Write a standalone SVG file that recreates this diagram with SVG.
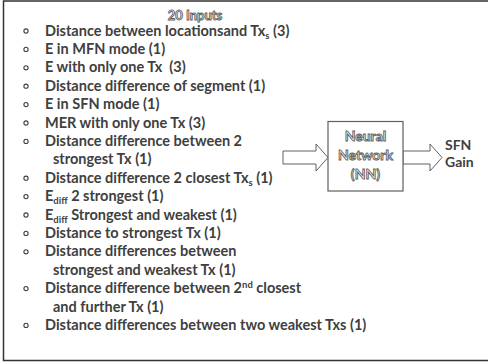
<svg xmlns="http://www.w3.org/2000/svg" width="488" height="362" viewBox="0 0 488 362">
<style>
.t{font-family:Lato,"Open Sans","Liberation Sans",sans-serif;font-weight:700;font-size:14.5px;fill:#404040}
.s{font-size:9.5px}
.o{font-family:Lato,"Open Sans","Liberation Sans",sans-serif;font-weight:700;font-size:14px;fill:#fff;stroke:#606060;stroke-width:0.9;text-anchor:middle}
.b{fill:none;stroke:#404040;stroke-width:1.1}
.ar{fill:#fff;stroke:#606060;stroke-width:1}
.bx{fill:#fff;stroke:#606060;stroke-width:1.2}
</style>
<rect x="3.5" y="1" width="500" height="359.5" fill="#fff" stroke="#333" stroke-width="1.5"/>
<g id="inputs">
<text class="o" x="195" y="19.5" style="font-size:13px">20 Inputs</text>
<g class="bullets">
<circle class="b" cx="26" cy="31" r="2.1"/>
<circle class="b" cx="26" cy="49.4" r="2.1"/>
<circle class="b" cx="26" cy="67.8" r="2.1"/>
<circle class="b" cx="26" cy="86.2" r="2.1"/>
<circle class="b" cx="26" cy="104.6" r="2.1"/>
<circle class="b" cx="26" cy="123" r="2.1"/>
<circle class="b" cx="26" cy="141.4" r="2.1"/>
<circle class="b" cx="26" cy="178.2" r="2.1"/>
<circle class="b" cx="26" cy="196.6" r="2.1"/>
<circle class="b" cx="26" cy="215" r="2.1"/>
<circle class="b" cx="26" cy="233.4" r="2.1"/>
<circle class="b" cx="26" cy="251.8" r="2.1"/>
<circle class="b" cx="26" cy="288.6" r="2.1"/>
<circle class="b" cx="26" cy="325.4" r="2.1"/>
</g>
<text class="t" x="45" y="35.5">Distance between locationsand Tx<tspan class="s" dy="3">s</tspan><tspan dy="-3"> (3)</tspan></text>
<text class="t" x="45" y="53.9">E in MFN mode (1)</text>
<text class="t" x="45" y="72.3" xml:space="preserve">E with only one Tx  (3)</text>
<text class="t" x="45" y="90.7">Distance difference of segment (1)</text>
<text class="t" x="45" y="109.1">E in SFN mode (1)</text>
<text class="t" x="45" y="127.5">MER with only one Tx (3)</text>
<text class="t" x="45" y="145.9">Distance difference between 2</text>
<text class="t" x="53" y="164.3">strongest Tx (1)</text>
<text class="t" x="45" y="182.7">Distance difference 2 closest Tx<tspan class="s" dy="3">s</tspan><tspan dy="-3"> (1)</tspan></text>
<text class="t" x="45" y="201.1">E<tspan class="s" dy="3">diff</tspan><tspan dy="-3"> 2 strongest (1)</tspan></text>
<text class="t" x="45" y="219.5">E<tspan class="s" dy="3">diff</tspan><tspan dy="-3"> Strongest and weakest (1)</tspan></text>
<text class="t" x="45" y="237.9">Distance to strongest Tx (1)</text>
<text class="t" x="45" y="256.3">Distance differences between</text>
<text class="t" x="53" y="274.7">strongest and weakest Tx (1)</text>
<text class="t" x="45" y="293.1">Distance difference between 2<tspan class="s" dy="-5">nd</tspan><tspan dy="5"> closest</tspan></text>
<text class="t" x="53" y="311.5">and further Tx (1)</text>
<text class="t" x="45" y="329.9">Distance differences between two weakest Txs (1)</text>
</g>
<g id="connectors">
<polygon class="ar" points="283,151 316,151 316,144 328,157.5 316,171 316,164 283,164"/>
<polygon class="ar" points="403,151 430,151 430,144 442,157.5 430,171 430,164 403,164"/>
</g>
<g id="nn">
<rect class="bx" x="328" y="121.5" width="75" height="69.5"/>
<text class="o" x="365.5" y="141">Neural</text>
<text class="o" x="365.5" y="160">Network</text>
<text class="o" x="365.5" y="179">(NN)</text>
</g>
<g id="output">
<text class="t" x="445" y="150" style="font-size:14px">SFN</text>
<text class="t" x="445" y="167" style="font-size:14px">Gain</text>
</g>
</svg>
